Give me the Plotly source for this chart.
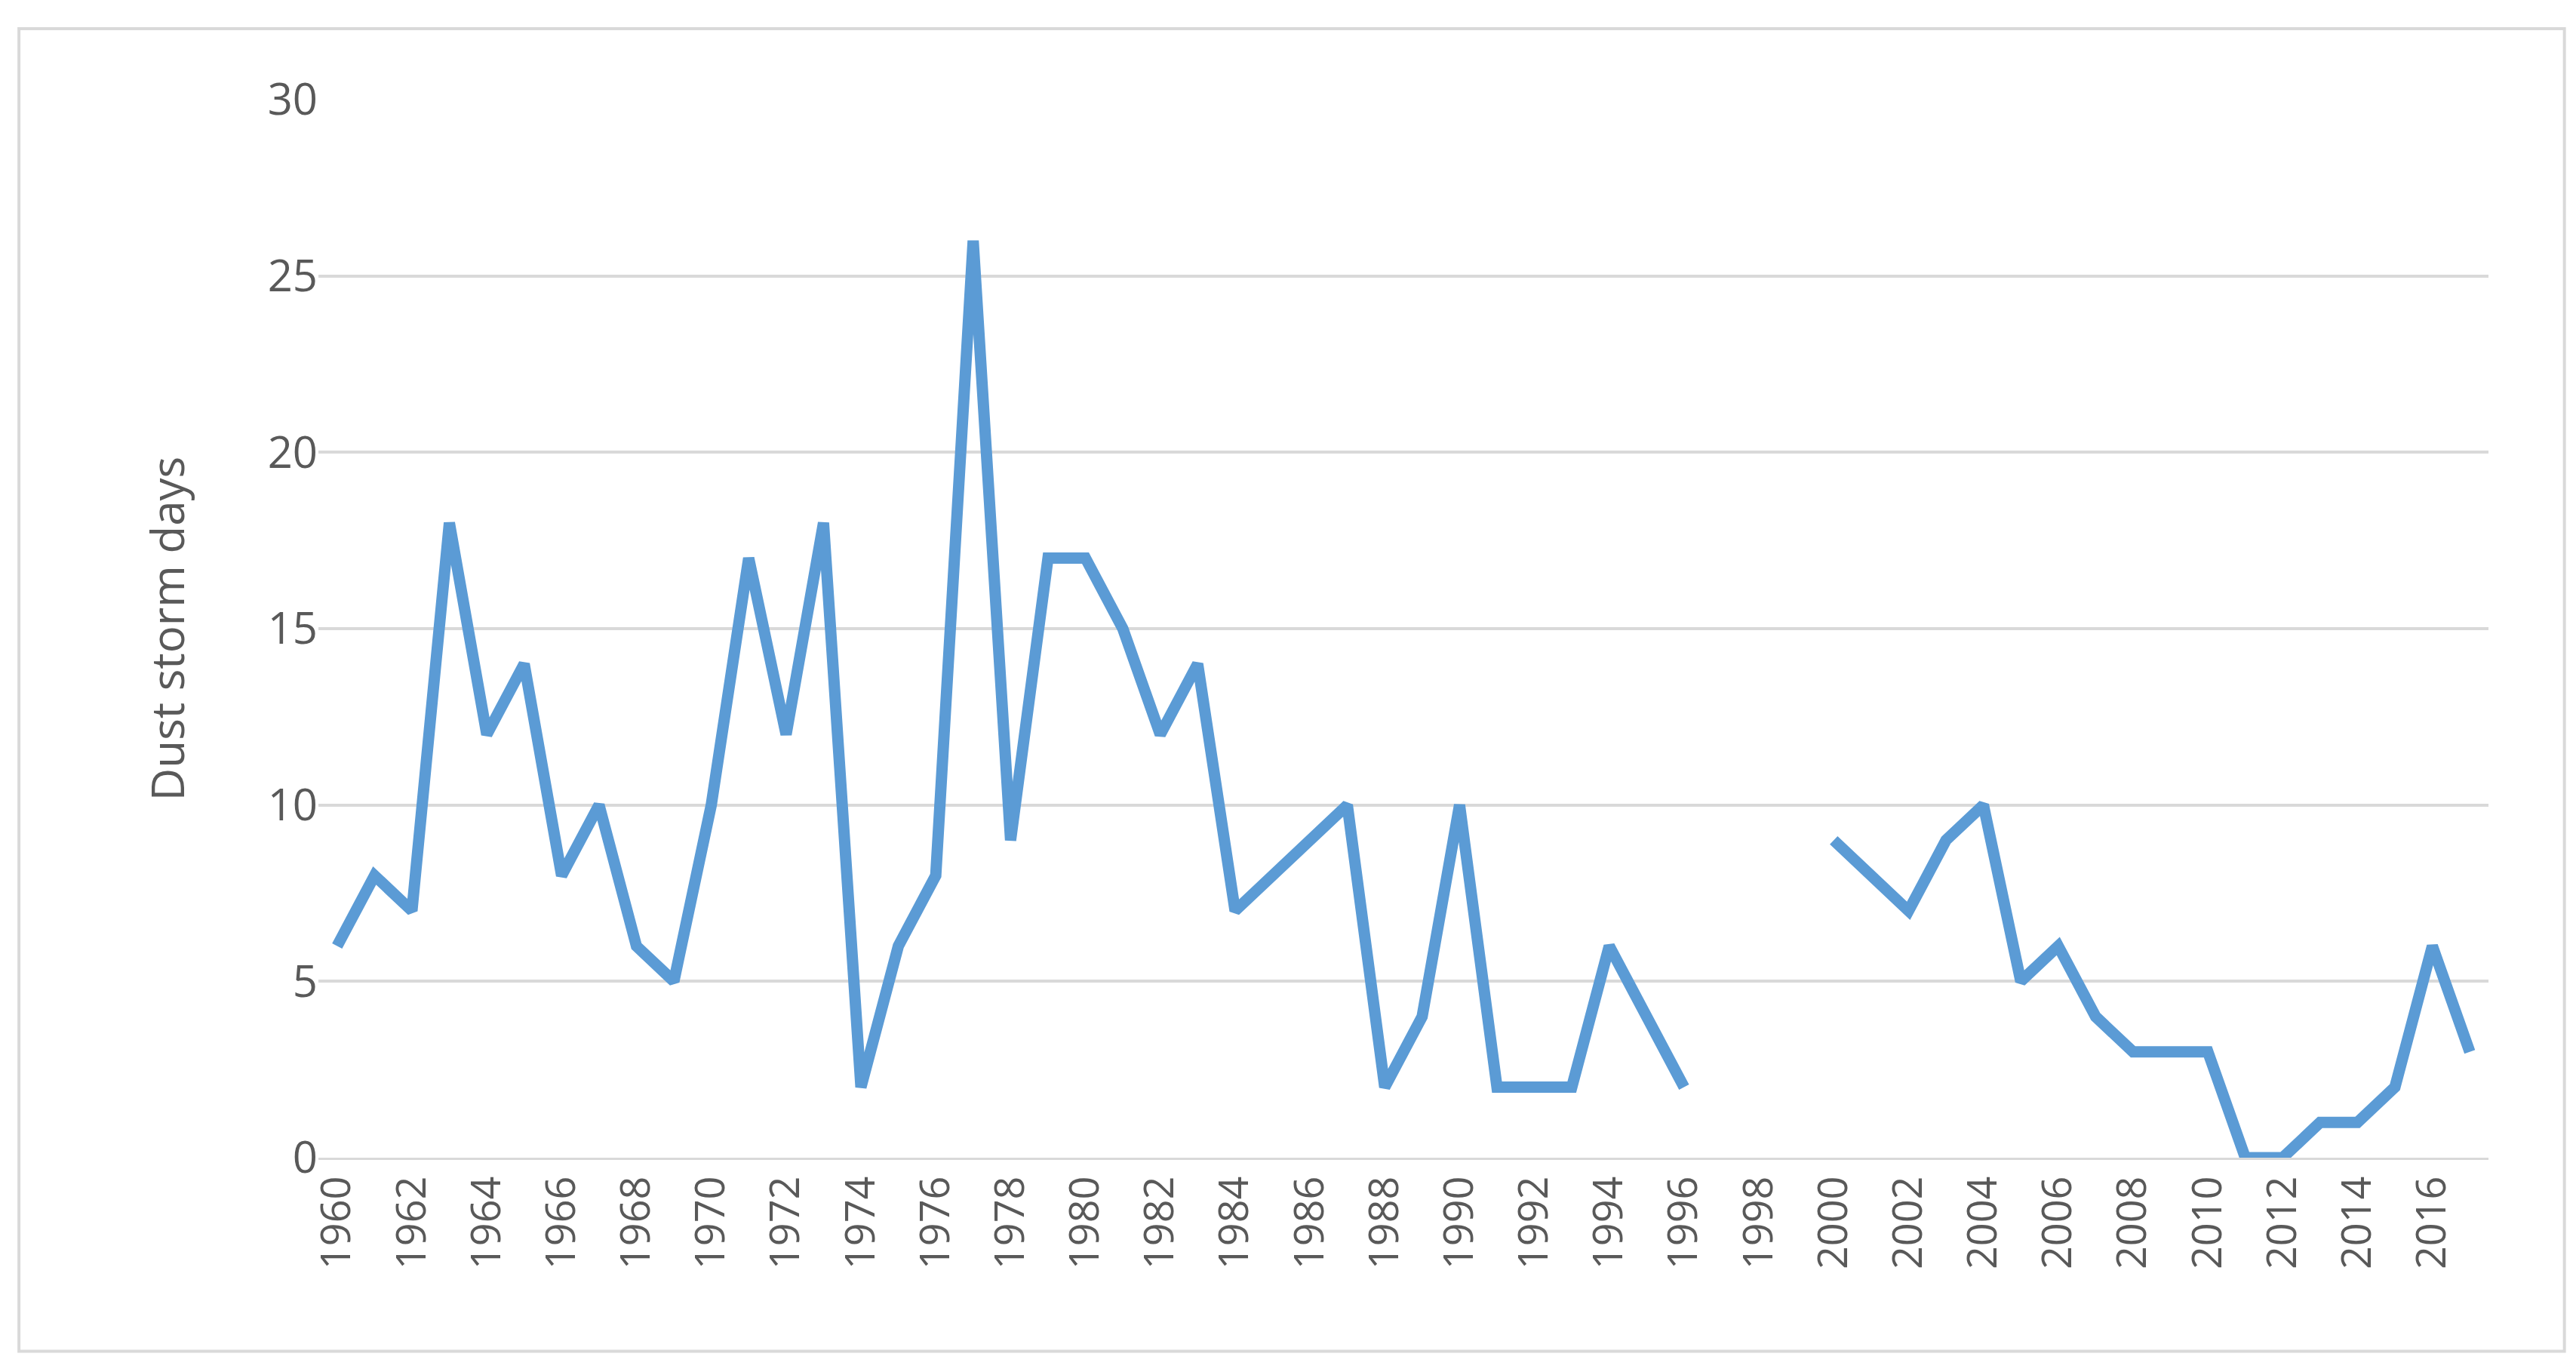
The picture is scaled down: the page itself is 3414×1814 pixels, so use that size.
import plotly.graph_objects as go

years = [str(y) for y in range(1960, 2018)]
days = [6, 8, 7, 18, 12, 14, 8, 10, 6, 5,
        10, 17, 12, 18, 2, 6, 8, 26, 9, 17,
        17, 15, 12, 14, 7, 8, 9, 10, 2, 4,
        10, 2, 2, 2, 6, 4, 2, None, None, None,
        9, 8, 7, 9, 10, 5, 6, 4, 3, 3,
        3, 0, 0, 1, 1, 2, 6, 3]
tick_labels = [str(y) for y in range(1960, 2018, 2)]

fig = go.Figure(go.Scatter(x=years, y=days, mode="lines",
                           line=dict(color="#5B9BD5", width=15),
                           connectgaps=False))
fig.update_layout(
    width=3414, height=1814, paper_bgcolor="white", plot_bgcolor="white",
    margin=dict(l=414, r=124, t=124, b=288),
    font=dict(family="Open Sans", color="#595959", size=56),
    showlegend=False,
    xaxis=dict(type="category", tickvals=tick_labels, ticktext=tick_labels,
               tickangle=-90, showgrid=False, showline=True,
               linecolor="#D9D9D9", linewidth=3, range=[-0.5, 57.5],
               ticks="", tickfont=dict(size=54)),
    yaxis=dict(range=[0, 30], dtick=5, showgrid=True, gridcolor="#D9D9D9",
               gridwidth=4, zeroline=False, ticks="", tickfont=dict(size=58),
               title=dict(text="Dust storm days", font=dict(size=60), standoff=90)),
    shapes=[dict(type="rect", xref="paper", yref="paper",
                 x0=-0.138, x1=1.035, y0=-0.183, y1=1.067,
                 line=dict(color="#D9D9D9", width=4))],
)
fig.write_html("out.html")
